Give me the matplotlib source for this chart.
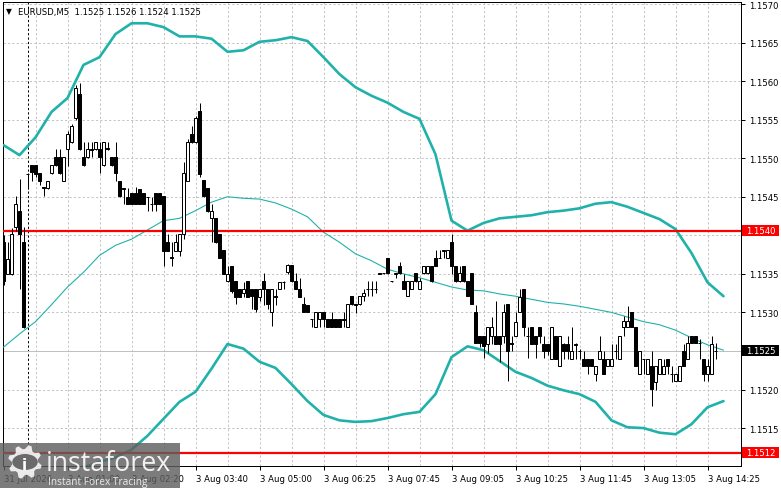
import numpy as np
import matplotlib.pyplot as plt
from matplotlib.patches import Rectangle, Polygon, Circle

# prices are stored in pips above 1.1500
BASE = 1.1500
PIP = 0.0001

# EURUSD M5 candles (bar 0 = last bar of 31 Jul)
opens = [39.1, 35.0, 35.0, 41.1, 43.2, 39.1, 48.0, 49.1, 49.1, 48.1,
         46.3, 46.1, 48.1, 50.2, 50.2, 47.0, 51.2, 52.1, 55.2, 58.3,
         50.2, 50.2, 51.2, 51.2, 51.2, 49.1, 51.3, 50.2, 50.2, 47.0,
         46.1, 45.0, 45.5, 45.5, 46.0, 45.5, 45.0, 44.1, 45.5, 45.5,
         45.1, 39.1, 37.2, 38.0, 38.0, 40.2, 47.0, 53.1, 52.1, 56.1,
         47.2, 46.1, 42.2, 42.2, 40.2, 38.1, 34.1, 36.0, 34.1, 33.0,
         32.5, 34.1, 33.0, 33.0, 32.0, 34.1, 33.0, 30.1, 32.1, 33.0,
         34.0, 35.2, 36.1, 34.1, 33.0, 31.1, 31.0, 29.2, 28.1, 29.1,
         30.1, 29.2, 29.2, 29.2, 29.2, 29.1, 28.1, 32.1, 31.1, 31.1,
         32.1, 33.0, 33.1, 33.0, 35.1, 35.1, 37.0, 34.1, 35.0, 36.0,
         34.1, 32.1, 33.0, 35.1, 33.0, 35.1, 35.1, 36.0, 37.0, 37.0,
         38.0, 37.0, 39.1, 36.0, 34.1, 36.0, 34.1, 35.1, 30.1, 27.0,
         27.0, 25.9, 26.9, 26.9, 26.9, 26.9, 31.1, 26.0, 26.9, 30.1,
         33.0, 26.9, 28.1, 26.9, 28.1, 25.9, 25.9, 23.9, 26.9, 23.0,
         25.9, 25.9, 23.9, 25.9, 25.0, 23.9, 23.9, 23.9, 22.0, 23.9,
         23.9, 23.0, 23.0, 25.0, 23.9, 28.1, 28.1, 30.1, 28.1, 22.0,
         23.9, 22.0, 23.0, 21.0, 22.0, 22.0, 23.9, 22.0, 21.1, 21.1,
         25.0, 23.9, 26.9, 26.9, 26.0, 23.9, 22.0, 22.0, 25.0]
highs = [40.0, 39.1, 41.0, 45.1, 47.3, 41.1, 48.1, 49.1, 49.1, 48.1,
         46.3, 47.0, 49.1, 51.2, 51.2, 50.2, 53.5, 54.5, 59.5, 59.8,
         52.1, 52.1, 52.1, 52.1, 52.1, 52.1, 52.1, 50.2, 52.1, 47.0,
         46.1, 46.1, 45.5, 46.3, 46.0, 45.5, 45.0, 45.0, 45.5, 45.5,
         45.1, 40.2, 39.1, 40.2, 40.2, 49.5, 52.5, 54.2, 55.5, 57.2,
         47.2, 46.1, 44.1, 42.2, 40.2, 38.1, 36.0, 36.0, 34.1, 33.0,
         34.0, 34.1, 33.0, 33.0, 33.0, 35.1, 33.0, 33.0, 33.0, 34.0,
         34.1, 36.3, 36.1, 35.1, 34.5, 32.0, 31.0, 29.2, 30.1, 30.1,
         30.1, 29.2, 30.1, 29.2, 29.2, 30.1, 31.1, 32.1, 31.1, 32.1,
         33.0, 34.1, 34.1, 34.1, 35.1, 35.1, 37.0, 34.1, 35.1, 36.5,
         35.0, 34.1, 34.1, 35.1, 34.5, 36.0, 36.0, 36.0, 38.1, 38.1,
         38.1, 38.1, 40.2, 36.0, 36.0, 36.0, 34.1, 35.1, 31.0, 27.0,
         27.0, 28.1, 29.4, 31.5, 27.0, 31.1, 31.1, 27.0, 30.1, 33.0,
         33.0, 28.1, 28.1, 26.9, 28.1, 27.0, 25.9, 28.1, 27.0, 27.0,
         26.0, 27.0, 28.1, 26.0, 25.2, 25.0, 23.9, 23.9, 23.0, 26.9,
         25.0, 23.9, 25.9, 25.9, 26.9, 29.5, 30.8, 30.1, 28.1, 25.0,
         23.9, 23.9, 25.0, 23.0, 23.9, 23.9, 23.9, 23.0, 22.0, 23.0,
         25.9, 26.9, 26.9, 26.9, 26.5, 23.9, 23.9, 27.0, 26.0]
lows = [33.5, 35.0, 34.8, 40.5, 33.0, 28.0, 46.0, 47.0, 47.5, 46.5,
        45.1, 46.0, 48.0, 49.0, 48.0, 47.0, 49.0, 52.0, 55.0, 51.0,
        49.0, 50.0, 50.2, 51.0, 48.1, 49.0, 51.0, 49.0, 47.0, 45.0,
        44.1, 44.0, 44.0, 44.0, 44.0, 44.0, 43.2, 43.2, 43.2, 44.0,
        36.0, 38.0, 36.0, 38.0, 37.3, 39.5, 47.0, 52.0, 52.0, 47.5,
        45.0, 43.0, 39.1, 39.0, 37.0, 35.0, 34.0, 32.5, 31.1, 32.0,
        32.0, 32.0, 30.5, 30.0, 31.5, 31.0, 30.5, 28.3, 31.0, 33.0,
        33.0, 35.0, 34.0, 33.0, 32.0, 30.0, 30.0, 28.1, 28.1, 28.1,
        28.1, 28.1, 28.1, 28.1, 28.1, 28.1, 28.1, 31.0, 29.9, 31.0,
        31.5, 32.1, 32.1, 32.5, 35.0, 35.0, 35.0, 34.0, 34.5, 35.0,
        33.0, 32.1, 33.0, 34.0, 33.0, 35.0, 35.0, 34.0, 36.0, 37.0,
        37.0, 37.0, 35.0, 34.0, 34.0, 34.0, 32.1, 31.1, 26.0, 25.5,
        24.1, 24.8, 25.9, 25.9, 23.6, 26.0, 21.1, 25.0, 26.9, 30.0,
        27.0, 24.1, 25.9, 24.1, 26.0, 24.1, 24.5, 23.9, 23.9, 23.0,
        24.0, 24.0, 23.9, 24.0, 24.0, 23.0, 22.0, 23.0, 21.1, 23.9,
        22.0, 23.0, 23.0, 23.9, 23.9, 27.0, 28.1, 28.1, 23.0, 22.0,
        22.0, 22.0, 17.9, 20.0, 22.0, 22.0, 22.0, 21.0, 21.1, 21.1,
        23.0, 23.9, 26.0, 26.0, 24.0, 21.1, 21.1, 22.0, 24.0]
closes = [34.1, 36.9, 40.2, 44.1, 40.2, 28.1, 48.0, 48.2, 48.0, 47.0,
          46.1, 47.0, 49.1, 49.1, 48.1, 50.2, 53.1, 54.2, 59.1, 51.2,
          49.1, 51.2, 51.1, 52.1, 50.2, 52.1, 51.2, 49.1, 48.1, 45.1,
          46.0, 44.1, 44.1, 44.1, 44.1, 44.1, 45.0, 44.0, 44.1, 44.1,
          38.0, 38.0, 37.1, 39.1, 40.2, 48.1, 52.1, 52.1, 55.2, 48.0,
          45.1, 43.2, 43.2, 39.1, 37.0, 35.0, 35.0, 32.8, 32.0, 32.0,
          33.0, 32.0, 32.1, 30.5, 33.0, 33.0, 31.1, 33.0, 32.0, 34.0,
          34.0, 36.1, 34.1, 33.0, 32.0, 30.1, 30.0, 29.1, 30.1, 30.1,
          29.2, 28.1, 28.1, 28.1, 28.1, 29.0, 31.1, 31.1, 31.0, 32.1,
          32.5, 33.1, 33.0, 33.1, 35.0, 35.1, 35.1, 34.1, 35.1, 35.1,
          33.0, 34.1, 34.1, 34.1, 34.1, 36.0, 36.0, 34.1, 36.0, 37.0,
          38.1, 38.1, 36.0, 34.1, 35.1, 34.1, 32.1, 31.1, 26.0, 26.0,
          25.7, 28.1, 28.1, 25.9, 25.9, 30.1, 25.0, 25.9, 28.8, 32.0,
          28.1, 27.0, 25.9, 25.9, 26.9, 25.0, 25.0, 28.1, 23.9, 26.9,
          25.0, 25.0, 25.0, 25.8, 25.0, 23.0, 23.0, 23.0, 23.0, 25.0,
          22.0, 23.9, 23.9, 25.0, 26.9, 28.9, 28.9, 28.1, 23.0, 25.0,
          23.9, 23.9, 20.1, 23.0, 23.9, 23.0, 23.0, 22.0, 22.0, 23.0,
          23.0, 26.0, 26.0, 26.0, 26.0, 22.0, 23.0, 25.9, 25.0]

# Bollinger bands, sampled every 4 bars (upper/middle from bar 0, lower from bar 20)
band_upper = [51.7, 50.4, 52.7, 56.0, 57.8, 62.1, 63.1, 66.1, 67.5, 67.5,
              67.0, 65.8, 65.8, 65.5, 63.8, 64.0, 65.1, 65.3, 65.7, 65.2,
              63.1, 60.9, 59.2, 58.1, 57.2, 56.0, 55.1, 50.5, 41.9, 40.6,
              41.6, 42.2, 42.4, 42.6, 43.0, 43.2, 43.5, 44.1, 44.3, 43.7,
              42.9, 42.1, 40.8, 37.7, 33.9, 32.1]
band_mid = [25.5, 27.2, 28.8, 31.0, 33.3, 35.2, 37.4, 38.7, 39.5, 40.7,
            41.9, 42.2, 43.2, 44.3, 45.0, 44.8, 44.7, 44.2, 43.4, 42.4,
            40.4, 39.1, 37.6, 36.7, 35.6, 35.0, 34.5, 33.9, 33.3, 32.9,
            32.8, 32.4, 32.1, 31.7, 31.3, 31.1, 30.8, 30.4, 30.0, 29.4,
            28.8, 28.4, 27.7, 26.7, 25.8, 25.1]
band_lower = [9.9, 10.6, 11.2, 12.2, 14.0, 16.2, 18.4, 19.7, 22.7, 25.9,
              25.3, 23.6, 22.8, 20.7, 18.5, 16.7, 16.0, 15.8, 15.9, 16.3,
              16.8, 17.1, 19.4, 24.2, 25.6, 25.1, 23.7, 22.3, 21.5, 20.5,
              19.9, 19.4, 18.4, 16.0, 15.1, 15.0, 14.4, 14.2, 15.5, 17.7,
              18.5]

tick_bars = [0, 16, 32, 48, 64, 80, 96, 112, 128, 144, 160, 176]
tick_labels = ['31 Jul 2026', '3 Aug 01:00', '3 Aug 02:20', '3 Aug 03:40',
               '3 Aug 05:00', '3 Aug 06:25', '3 Aug 07:45', '3 Aug 09:05',
               '3 Aug 10:25', '3 Aug 11:45', '3 Aug 13:05', '3 Aug 14:25']
price_ticks = [1.1515, 1.1520, 1.1525, 1.1530, 1.1535, 1.1540, 1.1545,
               1.1550, 1.1555, 1.1560, 1.1565, 1.1570]
level_prices = [1.15406, 1.15118]
level_labels = ['1.1540', '1.1512']
bid_price = 1.1525
day_start_bar = 6

W, H = 781, 489
fig = plt.figure(figsize=(W / 100, H / 100), dpi=100)
fig.patch.set_facecolor('white')
ax = fig.add_axes([3 / W, (H - 467) / H, 738 / W, 464 / H])
ax.set_facecolor('white')

o = BASE + np.array(opens) * PIP
hi = BASE + np.array(highs) * PIP
lo = BASE + np.array(lows) * PIP
c = BASE + np.array(closes) * PIP
n = len(o)
px = 0.72  # one pixel in points

ax.set_xlim(-0.125, 184.375)
ax.set_ylim(BASE + 10.08 * PIP, BASE + 70.26 * PIP)

# grid
for b in range(8, 184, 8):
    ax.axvline(b, color='#c4c4c4', lw=px, dashes=(2.2, 2.2), zorder=0)
for p in price_ticks:
    ax.axhline(p, color='#c4c4c4', lw=px, dashes=(2.2, 2.2), zorder=0)
ax.axvline(day_start_bar, color='black', lw=px, dashes=(2.2, 2.2), zorder=1)

# bid line and levels
ax.axhline(bid_price, color='#c0c0c0', lw=px, zorder=1)
for lp in level_prices:
    ax.axhline(lp, color='#ff0000', lw=1.6, zorder=4)

# Bollinger bands
bx = np.arange(0, 181, 4)
kw = dict(color='#20b2aa', zorder=3, solid_joinstyle='round', solid_capstyle='round')
ax.plot(bx, BASE + np.array(band_upper) * PIP, lw=1.9, **kw)
ax.plot(bx, BASE + np.array(band_mid) * PIP, lw=0.8, **kw)
ax.plot(bx[5:], BASE + np.array(band_lower) * PIP, lw=1.9, **kw)

# candles
w = 0.55
for i in range(n):
    ax.vlines(i, lo[i], hi[i], color='black', lw=px, zorder=5)
    if c[i] > o[i]:
        ax.add_patch(Rectangle((i - w / 2, o[i]), w, c[i] - o[i], facecolor='white',
                               edgecolor='black', lw=px, zorder=6))
    elif c[i] < o[i]:
        ax.add_patch(Rectangle((i - w / 2, c[i]), w, o[i] - c[i], facecolor='black',
                               edgecolor='black', lw=px, zorder=6))
    else:
        ax.hlines(o[i], i - w / 2 - 0.1, i + w / 2 + 0.1, color='black', lw=px, zorder=6)

# axes
for s in ax.spines.values():
    s.set_color('black')
    s.set_linewidth(px)
ax.yaxis.tick_right()
ax.set_yticks(price_ticks)
# the boxed labels sit on top of 1.1525 and 1.1540, so leave those blank
ax.set_yticklabels(['' if p in (1.1525, 1.1540) else f'{p:.4f}' for p in price_ticks])
ax.set_xticks(tick_bars)
ax.set_xticklabels(tick_labels)
ax.tick_params(axis='y', length=3, width=px, pad=3, labelsize=6.1, colors='black')
ax.tick_params(axis='x', length=3, width=px, pad=3, labelsize=6.1, colors='black')
for t in ax.get_xticklabels():
    t.set_horizontalalignment('left')

# price boxes on the scale
fy = lambda p: (fig.transFigure.inverted().transform(ax.transData.transform((0, p))))[1]
for lp, lab in zip(level_prices, level_labels):
    yc = fy(lp)
    fig.patches.append(Rectangle((742 / W, yc - 5.5 / H), 37 / W, 11 / H, facecolor='#ff0000',
                                 edgecolor='none', transform=fig.transFigure, zorder=10))
    fig.text(746.5 / W, yc, lab, color='white', fontsize=6.1, va='center', ha='left', zorder=11)
yb = fy(bid_price)
fig.patches.append(Rectangle((742 / W, yb - 5.5 / H), 37 / W, 11 / H, facecolor='black',
                             edgecolor='none', transform=fig.transFigure, zorder=10))
fig.text(746.5 / W, yb, f'{bid_price:.4f}', color='white', fontsize=6.1, va='center',
         ha='left', zorder=11)

# title
last = f'{o[-1]:.4f} {hi[-1]:.4f} {lo[-1]:.4f} {c[-1]:.4f}'
fig.text(6 / W, 1 - 14.5 / H, '\u25bc', fontsize=5.5, color='black')
fig.text(18 / W, 1 - 15 / H, 'EURUSD,M5  ' + last, fontsize=6.1, color='black')

# watermark
fig.patches.append(Rectangle((0, 0), 180 / W, 45 / H, facecolor='#5f5f5f', alpha=0.82,
                             edgecolor='none', transform=fig.transFigure, zorder=20))
ang = np.linspace(0, 2 * np.pi, 33)[:-1]
rad = np.where((np.arange(32) // 2) % 2 == 0, 17, 13)
gx = 25 + rad * np.cos(ang + 0.2)
gy = (H - 463) - rad * np.sin(ang + 0.2)
fig.patches.append(Polygon(np.column_stack([gx / W, gy / H]), closed=True, facecolor='white',
                           alpha=0.85, edgecolor='none', transform=fig.transFigure, zorder=21))
fig.patches.append(Circle((25 / W, (H - 463) / H), 8 / H, facecolor='#6a6a6a', edgecolor='none',
                          transform=fig.transFigure, zorder=22))
fig.text(21.5 / W, (H - 470) / H, 'i', color='white', fontsize=11, fontweight='bold', zorder=23)
fig.text(46 / W, (H - 471) / H, 'instaforex', color='white', fontsize=19.3, family='Open Sans',
         alpha=0.9, zorder=23)
fig.text(48 / W, (H - 485) / H, 'Instant Forex Tracing', color='white', fontsize=7.3,
         family='Open Sans', alpha=0.85, zorder=23)

fig.savefig('out.png', dpi=100)
